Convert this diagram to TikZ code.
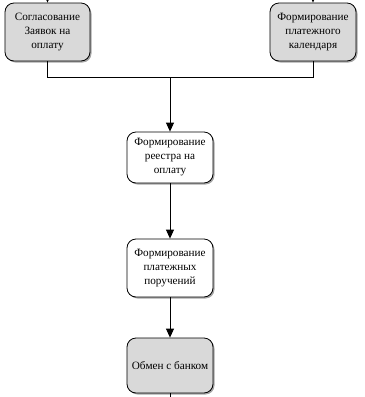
\documentclass[tikz,border=0pt]{standalone}
\usepackage{fontspec}
\setmainfont{Liberation Serif}
\usetikzlibrary{arrows.meta,shadows}
\begin{document}
\begin{tikzpicture}[x=1bp,y=-1bp,
  proc/.style={draw=black, line width=0.8bp, rounded corners=9bp, align=center,
    minimum width=86bp, inner sep=0pt, font=\fontsize{11.2bp}{14bp}\selectfont,
    drop shadow={shadow xshift=1.5bp, shadow yshift=-1.5bp, opacity=0.35, fill=black}},
  grayproc/.style={proc, fill=black!15},
  whiteproc/.style={proc, fill=white},
  conn/.style={draw=black, line width=0.8bp},
  arr/.style={conn, -{Triangle[length=9bp,width=8bp]}}]
\useasboundingbox (0,0) rectangle (365,397);
\node[grayproc, minimum height=58bp, minimum width=85bp] (b1) at (47.5,32) {Согласование\\Заявок на\\оплату};
\node[grayproc, minimum height=58bp] (b2) at (313,32) {Формирование\\платежного\\календаря};
\node[whiteproc, minimum height=51bp] (b3) at (170,157.5) {Формирование\\реестра на\\оплату};
\node[whiteproc, minimum height=58bp] (b4) at (170,268) {Формирование\\платежных\\поручений};
\node[grayproc, minimum height=55bp] (b5) at (170,365.5) {Обмен с банком};
\coordinate (t1) at (47.5,-12);
\coordinate (t2) at (313,-12);
\coordinate (j) at (170,77);
\coordinate (bot) at (170,410);
\draw[arr] (t1) -- (b1.north);
\draw[arr] (t2) -- (b2.north);
\draw[conn] (b1.south) |- (j);
\draw[conn] (b2.south) |- (j);
\draw[arr] (j) -- (b3.north);
\draw[arr] (b3.south) -- (b4.north);
\draw[arr] (b4.south) -- (b5.north);
\draw[conn] (b5.south) -- (bot);
\end{tikzpicture}
\end{document}
